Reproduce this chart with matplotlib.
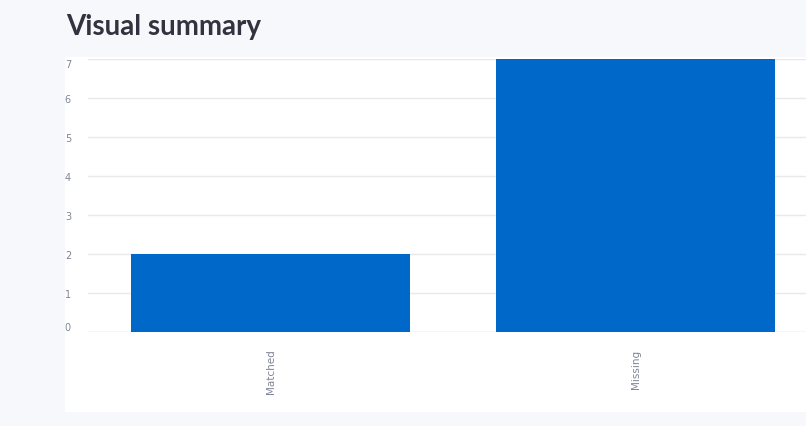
import matplotlib.pyplot as plt
from matplotlib.patches import Rectangle

categories = ["Matched", "Missing"]
counts = [2, 7]
y_ticks = [0, 1, 2, 3, 4, 5, 6, 7]

BG = "#f6f8fb"
BAR = "#0068c9"
GRID = "#e8e9ec"
LABEL = "#808495"

fig = plt.figure(figsize=(8.06, 4.27), dpi=100, facecolor=BG)

# white chart panel
fig.patches.append(Rectangle((65 / 806, 14 / 427), 741 / 806, 355 / 427,
                             transform=fig.transFigure, facecolor="white",
                             edgecolor="none", zorder=0))

fig.text(66 / 806, 1 - 27 / 427, "Visual summary", fontsize=20,
         fontweight="bold", family="Lato", color="#31333f",
         ha="left", va="center")

ax = fig.add_axes([88 / 806, 94 / 427, 718 / 806, 273 / 427])
ax.set_facecolor("white")
ax.set_zorder(1)

x = list(range(len(categories)))
ax.bar(x, counts, width=0.764, color=BAR, zorder=2)

ax.set_xlim(-0.5, 1.467)
ax.set_ylim(0, 7)
ax.set_yticks(y_ticks)
ax.set_yticklabels([str(t) for t in y_ticks])
ax.set_xticks(x)
ax.set_xticklabels(categories, rotation=90, va="top", ha="center")

ax.grid(axis="y", color=GRID, linewidth=1, zorder=0)
ax.tick_params(axis="y", length=0, pad=11, labelsize=7, labelcolor=LABEL)
ax.tick_params(axis="x", length=0, pad=12, labelsize=7.5, labelcolor=LABEL)
for s in ax.spines.values():
    s.set_visible(False)
ax.axhline(0, color="#dcdde1", linewidth=1, zorder=1)

labels = ax.get_yticklabels()
labels[0].set_va("bottom")
labels[-1].set_va("top")
for lab in labels:
    lab.set_ha("left")
    lab.set_x(-0.011)

fig.savefig("out.png", dpi=100, facecolor=BG)
